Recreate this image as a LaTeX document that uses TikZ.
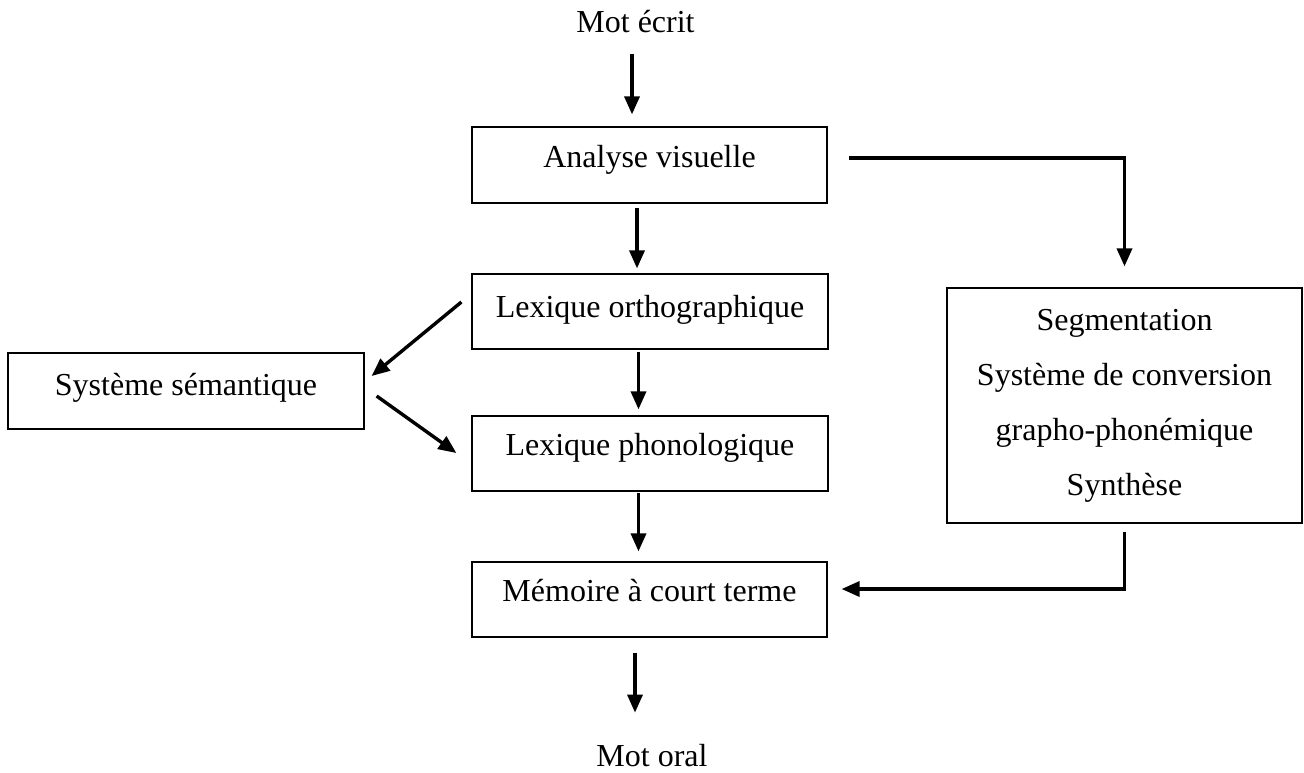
\documentclass[tikz,border=0pt]{standalone}
\usepackage{fontspec}
\setmainfont{Liberation Serif}
\usetikzlibrary{arrows.meta}
\begin{document}
\begin{tikzpicture}[x=1pt,y=-1pt,
  box/.style={draw, line width=1.2pt, minimum width=355pt, inner xsep=0pt, inner ysep=0pt,
    text height=40pt, text depth=36pt, font=\fontsize{32}{38}\selectfont},
  lbl/.style={inner sep=0pt, font=\fontsize{32}{38}\selectfont},
  arr/.style={line width=3.4pt, -{Triangle[width=15pt,length=18pt]}}]
\useasboundingbox (0,0) rectangle (1304,772);

\node[box] (ana) at (649.5,165) {Analyse visuelle};
\node[box, minimum width=356pt, text height=43pt, text depth=32pt] (lo) at (650,311.5) {Lexique orthographique};
\node[box, minimum width=356pt, text height=39pt, text depth=36pt] (lp) at (650,453.5) {Lexique phonologique};
\node[box, text height=39pt, text depth=36pt] (mem) at (649.5,599.5) {Mémoire à court terme};
\node[box, minimum width=356pt, text height=42pt, text depth=34pt] (sem) at (186,391) {Système sémantique};
\node[draw, line width=1.2pt, minimum width=355pt, minimum height=235pt, align=center,
  inner sep=0pt, font=\fontsize{32}{55}\selectfont] (rb) at (1124.5,405.5)
  {Segmentation\\Système de conversion\\grapho-phonémique\\Synthèse};

\node[lbl, anchor=base] (me) at (635.5,32) {Mot écrit};
\node[lbl, anchor=base] (mo) at (652,766) {Mot oral};

\draw[arr, shorten <=21pt, shorten >=12pt] ([xshift=-3.5pt]me.south) -- ([xshift=-3.5pt]me.south |- ana.north);
\draw[arr, shorten <=4pt, shorten >=5pt] ([xshift=-12.5pt]ana.south) -- ([xshift=-12.5pt]ana.south |- lo.north);
\draw[arr, shorten <=2pt, shorten >=6pt] ([xshift=-11.5pt]lo.south) -- ([xshift=-11.5pt]lo.south |- lp.north);
\draw[arr, shorten <=1pt, shorten >=10pt] ([xshift=-11.5pt]lp.south) -- ([xshift=-11.5pt]lp.south |- mem.north);
\draw[arr, shorten <=15pt, shorten >=31pt] ([xshift=-14.5pt]mem.south) -- ([xshift=-14.5pt]mem.south |- mo.north);

\draw[arr] ([shift={(-10,-9.5)}]lo.west) -- ([shift={(7,-15)}]sem.east);
\draw[arr] ([shift={(12,5)}]sem.east) -- ([shift={(-15,-0.5)}]lp.west);

\draw[arr, shorten >=21pt] ([shift={(21,-7)}]ana.east) -| (rb.north);
\draw[arr, shorten <=8pt] (rb.south) |- ([shift={(14,-10.5)}]mem.east);
\end{tikzpicture}
\end{document}
